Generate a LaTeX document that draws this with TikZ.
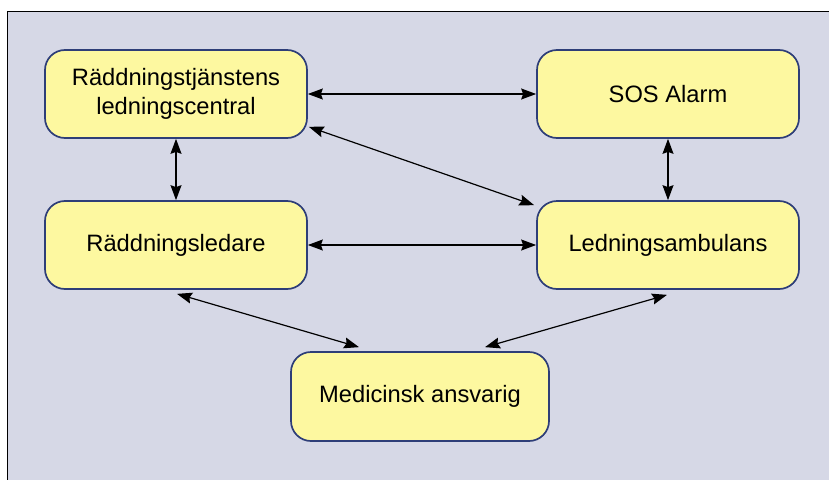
\documentclass[tikz,border=0pt]{standalone}
\usepackage{fontspec}
\setmainfont{Liberation Sans}
\usetikzlibrary{arrows.meta,calc}
\definecolor{bgc}{RGB}{214,216,230}
\definecolor{boxfill}{RGB}{253,248,160}
\definecolor{boxline}{RGB}{46,62,120}
\tikzset{
  box/.style={draw=boxline, line width=1.7pt, fill=boxfill, rounded corners=20pt,
    minimum width=262pt, minimum height=88pt, inner sep=0pt, align=center,
    font=\fontsize{23.7}{29}\selectfont},
  arr/.style={line width=1.2pt, {Stealth[length=15pt,width=11pt,inset=2pt]}-{Stealth[length=15pt,width=11pt,inset=2pt]}}
}
\begin{document}
\begin{tikzpicture}[x=1pt,y=-1pt]
\clip (0,0) rectangle (829,479);
\useasboundingbox (0,0) rectangle (829,479);
\draw[fill=bgc, line width=1pt] (7,11) rectangle (840,490);
\node[box] (rtl) at (176,94) {Räddningstjänstens\\ledningscentral};
\node[box] (sos) at (668,94) {SOS Alarm};
\node[box] (rl) at (176,245) {Räddningsledare};
\node[box] (amb) at (668,245) {Ledningsambulans};
\node[box, minimum width=258pt, minimum height=89pt] (med) at (420,396.5) {Medicinsk ansvarig};
\draw[arr] (rtl.east) -- (sos.west);
\draw[arr] (rl.east) -- (amb.west);
\draw[arr] ($(rtl.south east)+(1,-12)$) -- ($(amb.north west)+(-2,5)$);
\draw[arr] (rtl.south) -- (rl.north);
\draw[arr] (sos.south) -- (amb.north);
\draw[arr] ($(rl.south)+(1,4)$) -- ($(med.north)+(-61,-4)$);
\draw[arr] ($(med.north)+(65,-4)$) -- ($(amb.south)+(-1,5)$);
\end{tikzpicture}
\end{document}
